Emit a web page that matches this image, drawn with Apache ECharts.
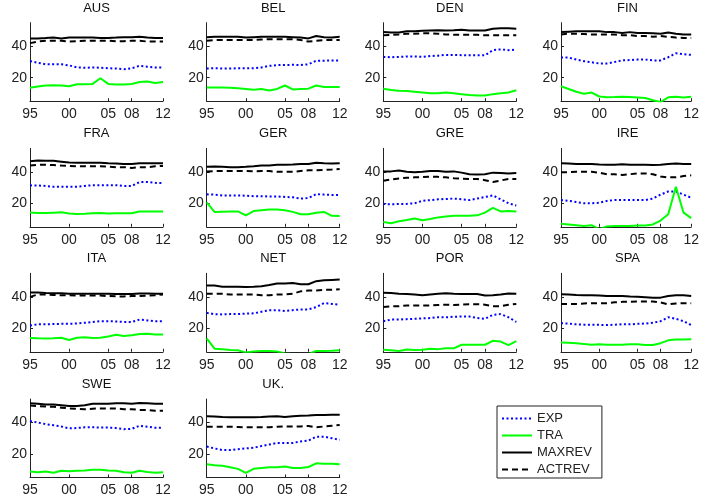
<!DOCTYPE html>
<html>
<head>
<meta charset="utf-8">
<script src="https://cdn.jsdelivr.net/npm/echarts@6/dist/echarts.min.js"></script>
<style>
html,body{margin:0;padding:0;background:#fff;}
#main{width:702px;height:502px;}
</style>
</head>
<body>
<div id="main"></div>
<script>
// 年份 / 国家
const years = [1995,1996,1997,1998,1999,2000,2001,2002,2003,2004,2005,2006,2007,2008,2009,2010,2011,2012];
const countries = ['AUS','BEL','DEN','FIN','FRA','GER','GRE','IRE','ITA','NET','POR','SPA','SWE','UK.'];
const xTicks = [1995,2000,2005,2008,2012];
const yTicks = [20,40];

const exp = [
    [30.6,29.5,28.5,28.5,28.5,27.8,26.5,26.3,26.5,26.3,26,25.8,25.3,26,27.5,27,26.5,26.5],
    [25.8,26,25.8,25.8,26,26,26,26.5,27.5,28,28,28.2,28,28.5,30.8,30.8,31,31],
    [33.2,33,33.2,33.5,33.5,33.2,33.8,34,34.5,34.5,34.3,34.2,34.2,34.2,37.5,38,37.5,37.8],
    [32.8,32.8,31.5,30.5,29.8,29,29,30,31,31.2,31.5,31.5,31,31,33,35.5,35,34.5],
    [31.4,31.3,31,30.5,30.5,30.5,30.5,31,31.5,31.5,31.5,31.5,31,31,33.5,33.5,33,32.8],
    [25.7,25.5,25,25,25,24.8,24.5,24.5,24.3,24.3,24,23.8,23,23.3,25.8,25.5,25.3,25.3],
    [19.6,19.3,19.5,19.6,20,21.5,22,22.5,22.7,23,22.5,22,23,24,25,22.5,20,18.5],
    [22,21.5,20.8,20,20,20.3,21.5,22,22,22,22,22,23,25.5,27.5,27.5,25.5,23.5],
    [21.7,22.5,22.5,22.7,22.8,22.8,23,23.5,24,24.5,24.5,24.3,24,24,25.5,25,24.5,24.5],
    [29.8,29,28.8,29,29,29.3,29.5,30.5,31.5,31.5,31,31.5,32,32,33.5,36,35.5,35],
    [24.5,25.5,25.5,25.8,26,26.3,26.5,27,27,27.3,27.5,27.5,26.5,26,28.5,29,27,24],
    [23.2,23,22.5,22.3,22.3,22.2,22,22.3,22.5,22.5,22.8,23,23.5,24.5,27,26,24.5,22],
    [41,40,39,38.3,37.5,36.3,36.5,37,37,36.8,36.8,36.5,35.8,36,38,37.3,36.7,36.7],
    [24.7,23.5,22.5,22.5,23,23.5,24,25,26,27,27,27,28,28.5,31,31,30,29]
];
const tra = [
    [13.6,14.3,15,15.2,15,14.5,15.8,15.8,16,19.6,16,15.6,15.6,16,17.2,17.6,16.6,17.3],
    [13.7,13.7,13.8,13.5,13.2,12.8,12.3,12.8,11.8,12.8,15,12.5,12.8,13,15,14,14,14],
    [13,12.2,11.7,11.5,11,10.5,10,10,10.5,10,9.5,9,8.7,8.7,9.5,10,10.5,12],
    [14.5,12.8,11,9.8,10.5,8,7.5,7.6,7.8,7.6,7.3,7,5.6,4.5,7.5,7.8,7.3,7.8],
    [14.1,13.8,13.8,14,14.2,13.5,13.2,13.3,13.6,13.8,13.5,13.6,13.6,13.6,14.8,14.8,14.8,14.8],
    [20.6,14.5,14.6,14.7,14.8,12.3,15,15.5,16,16,15.5,14.5,13,13,14,14.5,12,11.8],
    [8,7.3,8.5,9.3,10.3,9.2,10,11,11.5,12,12,12,12.3,14,17,14.8,15,14.8],
    [7,6.5,6,5.5,6,3.5,5.2,5.5,5.5,5.5,5.8,5.8,6.5,9,13,30.5,14,10.5],
    [13.8,13.6,13.5,13.7,14,12.5,14,14.3,13.8,14,14.8,15.8,15,15.5,16.3,16.5,16,16],
    [13.5,7,6.7,6.2,6,4.5,5.2,5.5,5.5,5.2,4,3.5,3.5,3.5,5.5,5.5,5.6,6],
    [6.3,6,5.5,6.5,6.2,6.3,7,6.7,7.3,7.2,9.5,9.5,9.5,9.5,12,11.5,9.3,11.8],
    [11,10.8,10.5,10,9.5,9.8,9.5,9.5,9.5,9.8,9.8,9.3,9.3,10.5,12.3,12.8,12.8,13],
    [8.8,8.3,8.8,8,9.3,9,9.3,9.5,10,10,9.5,9.3,8.3,8,9.3,8.5,8,8.3],
    [13.5,12.8,12.5,11.5,10.5,8,10.5,11,11.5,11.5,12,11,11,11.7,14,13.8,13.8,13.5]
];
const maxrev = [
    [45,45,45.2,45.5,45,45.5,45.5,45.5,45.5,45.3,45.3,45.5,45.8,45.8,46,45.5,45.3,45.3],
    [45.8,46,46,46,46,45.5,45.8,46,46,46,46,45.8,45.5,45,46.5,45.8,45.5,46],
    [49,48.8,48.8,49.5,49.6,49.8,50,50.2,50,50.2,50.5,50,50,50,51.2,51.5,51.5,51.2],
    [49,49.3,49.5,49.5,49.5,49.5,49,49,48.5,49,48.5,48.5,48.3,48,48.8,48,47.5,47.5],
    [46.7,47.2,47,47,46.5,46,45.8,45.8,45.8,45.8,45.5,45.3,45,45,45.5,45.5,45.5,45.5],
    [43.3,43.4,43.2,43,43,43.2,43.5,44,44,44.5,44.5,44.7,45,45,45.8,45.5,45.3,45.5],
    [40.3,40.3,40.8,40,39.8,40,40.5,40.5,40,40.3,39.5,38.5,38.3,38.5,39.5,39.3,39,39.3],
    [45.4,45.3,45,45,45,44.7,44.5,44.5,44.8,44.5,44.5,44.5,44.3,44.5,45,45.3,45,45],
    [42.8,42.8,42.5,42.3,42.3,42,42,42,42,42,42,41.8,41.8,41.8,42.2,42.2,42,42],
    [47.2,47.2,46.5,46.5,46.5,46.3,46.5,46.8,47.5,48.5,48.5,48.8,48,48,50,50.5,50.8,51],
    [42.6,42.5,42,41.8,41.5,41,41.5,42,42.3,42,41.8,41.8,41.8,40.8,41,41.5,42.2,42],
    [41.6,41.5,41.2,41,41,40.8,40.5,40.5,40.5,40.2,40,39.8,39.5,39.5,40.5,41,41,40.5],
    [52.3,52,51.5,51.5,51,50.5,50.5,51,52,52,52,52.3,52.3,52,52.5,52.3,52,52],
    [44,43.8,43.5,43.3,43.3,43.3,43.3,43.5,43.8,44,43.5,44,44.3,44.5,44.8,44.8,45,45]
];
const actrev = [
    [42,43,43.5,43.5,43.5,43,43.2,43.5,43.5,43.5,43.5,43.2,43.2,43.5,43.5,43,43,43],
    [43.5,44,44,44,44,44,44,44.3,44.5,44.5,44.5,44.5,44,43,43.5,44,44,44],
    [47,47.2,47.5,48,48,48.3,48.3,48,47.5,47.3,47.3,47.3,47.3,47,47,47,47,47],
    [47.5,48,48,47.8,47.5,47.5,47.5,47.5,47,47,46.5,46.5,46,46.5,46,45.5,45.3,45.3],
    [44,44.5,44.5,44.3,44,43.8,43.5,43.5,43.5,43.5,43.3,43,43,42.5,43,43,43.5,43.8],
    [40.3,40.5,40.5,40.5,40.5,40.5,40.3,40.5,40.5,40,40,40,40.5,41,41,41.3,41.5,41.8],
    [34.3,35.2,35.8,36.2,36.5,36.7,37,36.8,36.5,36,35.7,35.5,35.5,34.7,33.5,34.5,35.5,35.5],
    [39.8,39.8,40,40,40,39.5,38.5,38.5,38,38.5,39,39,38.5,37,36.5,36.5,37.3,37.8],
    [40,41.5,41.5,41.2,41,41,40.8,40.8,40.8,40.8,40.5,40.3,40.3,40.5,40.5,40.8,41,41.5],
    [42,42,42,41.5,41.5,41.5,41.5,41,41,41.5,41.5,42,43.5,44,44,44.5,44.5,44.8],
    [33.6,34,34,34.5,34.5,34.5,34.5,34.8,35,34.8,35,35.3,35.3,35,34,34,35,35.5],
    [35.5,35.5,35.5,35.8,36,36,36,36.5,36.8,36.8,37,37,37,36.5,35.2,35.8,36,36],
    [50.8,50.5,50.3,50,49.5,49,48.8,48.5,48.8,49,49,49,48.5,48.5,48,48,47.5,47.5],
    [37.4,37.3,37.3,37.3,37.2,37,37,37,37,37.3,37.5,37.5,37.5,37.8,37,37.5,38,38.5]
];

const colLeft = [30, 206.7, 383.3, 561];
const rowTop = [22.7, 148.3, 273.3, 399];
const W = 133, H = 78.5;
const font = "'Liberation Sans', Arial, sans-serif";

function pairs(arr){
    return arr.map((v,i)=>[years[i], v]);
}

let grids=[], xAxes=[], yAxes=[], titles=[], series=[];
countries.forEach((c,i)=>{
    let col=i%4, row=Math.floor(i/4);
    grids.push({left:colLeft[col], top:rowTop[row], width:W, height:H});
    titles.push({
        text:c, left:colLeft[col]+W/2, top:rowTop[row]-21, textAlign:'center', padding:0,
        textStyle:{fontFamily:font, fontSize:13, fontWeight:'normal', color:'#111'}
    });
    xAxes.push({
        type:'value', gridIndex:i, min:1995, max:2012,
        splitLine:{show:false},
        axisLine:{lineStyle:{color:'#222', width:1}},
        axisTick:{inside:true, length:3, customValues:xTicks, lineStyle:{color:'#222'}},
        axisLabel:{customValues:xTicks, margin:6, fontFamily:font, fontSize:14, color:'#222',
            formatter:v=>String(v).slice(2)}
    });
    yAxes.push({
        type:'value', gridIndex:i, min:5, max:55,
        splitLine:{show:false},
        axisLine:{show:true, lineStyle:{color:'#222', width:1}},
        axisTick:{inside:true, length:3, customValues:yTicks, lineStyle:{color:'#222'}},
        axisLabel:{customValues:yTicks, margin:3, fontFamily:font, fontSize:14, color:'#222'}
    });
    const base={type:'line', xAxisIndex:i, yAxisIndex:i, symbol:'none', silent:true, animation:false, clip:true};
    series.push(Object.assign({}, base, {name:'EXP', data:pairs(exp[i]),
        lineStyle:{color:'#0000ff', width:2, type:[2,2.5]}, itemStyle:{color:'#0000ff'}}));
    series.push(Object.assign({}, base, {name:'TRA', data:pairs(tra[i]),
        lineStyle:{color:'#00ff00', width:2}, itemStyle:{color:'#00ff00'}}));
    series.push(Object.assign({}, base, {name:'MAXREV', data:pairs(maxrev[i]),
        lineStyle:{color:'#000', width:2}, itemStyle:{color:'#000'}}));
    series.push(Object.assign({}, base, {name:'ACTREV', data:pairs(actrev[i]),
        lineStyle:{color:'#000', width:2, type:[6,4]}, itemStyle:{color:'#000'}}));
});

const chart = echarts.init(document.getElementById('main'));
chart.setOption({
    animation:false,
    title:titles,
    grid:grids,
    xAxis:xAxes,
    yAxis:yAxes,
    legend:{
        orient:'vertical', left:497, top:406,
        data:['EXP','TRA','MAXREV','ACTREV'],
        borderColor:'#222', borderWidth:1, borderRadius:0,
        padding:[6,10,2,4], itemWidth:30, itemHeight:14, itemGap:4,
        itemStyle:{opacity:0},
        textStyle:{fontFamily:font, fontSize:13, color:'#222'},
        selectedMode:false
    },
    series:series
});
</script>
</body>
</html>
